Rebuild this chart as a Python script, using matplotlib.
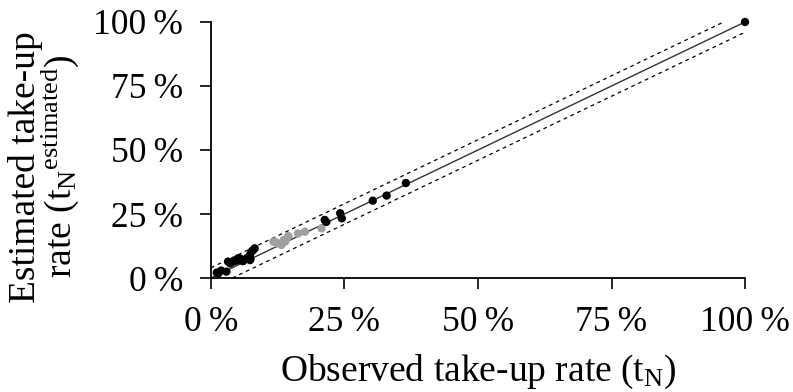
import matplotlib
matplotlib.use("Agg")
import matplotlib.pyplot as plt
from matplotlib.ticker import FixedLocator

plt.rcParams['font.family'] = ['Liberation Serif', 'DejaVu Serif']
plt.rcParams['mathtext.fontset'] = 'custom'
plt.rcParams['mathtext.rm'] = 'Liberation Serif'
plt.rcParams['mathtext.it'] = 'Liberation Serif:italic'

# Black points (observed %, estimated %)
black_x = [1.1, 1.4, 1.9, 2.9, 3.2, 3.6, 4.2, 4.8, 5.1, 5.4, 5.7, 6.0, 6.7, 7.3, 7.3, 7.4, 7.6, 7.9, 8.2,
           21.3, 21.6, 24.2, 24.5, 30.3, 32.9, 36.5, 100.0]
black_y = [2.1, 1.8, 2.9, 2.5, 6.4, 5.7, 6.4, 6.8, 7.7, 7.7, 7.0, 6.6, 7.7, 9.0, 7.0, 7.4, 10.3, 10.9, 11.6,
           22.7, 21.9, 25.3, 23.3, 30.2, 32.2, 37.1, 100.0]
# Grey points
grey_x = [11.7, 12.0, 12.6, 13.2, 13.6, 13.9, 14.2, 14.5, 16.3, 17.6, 20.7]
grey_y = [14.2, 14.2, 13.5, 12.9, 14.8, 14.2, 15.5, 16.4, 17.4, 18.1, 19.4]

band = 4.0
line_x = [0, 100]

x_ticks = [0, 25, 50, 75, 100]
tick_labels = ["0\u2009%", "25\u2009%", "50\u2009%", "75\u2009%", "100\u2009%"]

fig = plt.figure(figsize=(7.93, 3.92), dpi=100)
ax = fig.add_axes([0.266, 0.2908, 0.6735, 0.6531])

ax.plot(line_x, line_x, color='#333333', lw=1.0, zorder=2)
ax.plot([0, 100 - band], [band, 100], color='black', lw=0.9, ls=(0, (3, 3)), zorder=2)
ax.plot([band, 100], [0, 100 - band], color='black', lw=0.9, ls=(0, (3, 3)), zorder=2)

ax.scatter(grey_x, grey_y, s=36, color='#a0a0a0', edgecolors='none', zorder=3, clip_on=False)
ax.scatter(black_x, black_y, s=36, color='black', edgecolors='none', zorder=4, clip_on=False)

ax.set_xlim(0, 100)
ax.set_ylim(0, 100)
for s in ['top', 'right']:
    ax.spines[s].set_visible(False)
for s in ['left', 'bottom']:
    ax.spines[s].set_linewidth(1.3)
ax.xaxis.set_major_locator(FixedLocator(x_ticks))
ax.yaxis.set_major_locator(FixedLocator(x_ticks))
ax.set_xticklabels(tick_labels)
ax.set_yticklabels(tick_labels)
ax.tick_params(axis='both', direction='out', length=8, width=1.2, labelsize=25.5, colors='black')
ax.tick_params(axis='y', pad=12)
ax.tick_params(axis='x', pad=12)

ax.set_xlabel(r"Observed take-up rate (t$_\mathrm{N}$)", fontsize=27)
ax.xaxis.set_label_coords(0.5, -0.29)
ax.set_ylabel("Estimated take-up\n" + r"rate (t$_\mathrm{N}{}^\mathrm{estimated}$)", fontsize=27,
              linespacing=0.85)
ax.yaxis.set_label_coords(-0.243, 0.435)

fig.savefig("out.png", dpi=100)
